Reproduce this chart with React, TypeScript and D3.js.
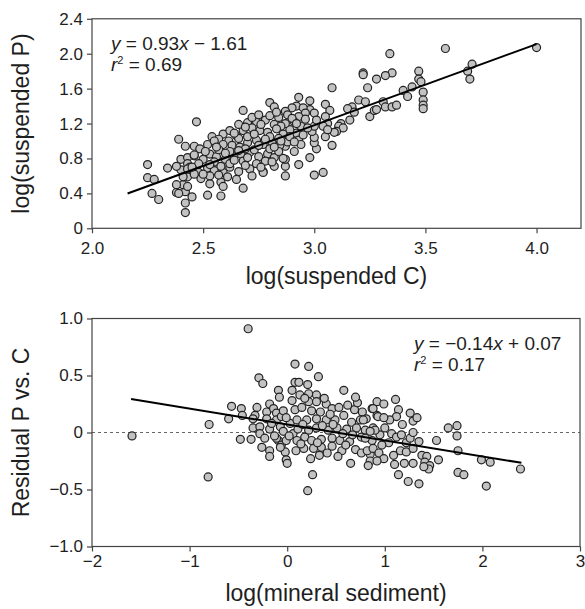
import React, { useRef, useEffect } from 'react'
import { select, scaleLinear, axisBottom, axisLeft, line } from 'd3'

const FONT = 'Liberation Sans, Arial, Helvetica, sans-serif'

// tick values
const carbonTicks = [2.0, 2.5, 3.0, 3.5, 4.0]
const phosphorusTicks = [0, 0.4, 0.8, 1.2, 1.6, 2.0, 2.4]
const sedimentTicks = [-2, -1, 0, 1, 2, 3]
const residualTicks = [-1.0, -0.5, 0, 0.5, 1.0]

// fits: [slope, intercept], drawn over [from, to]
const carbonFit = [0.93, -1.61]
const carbonFitSpan = [2.16, 4.0]
const carbonR2 = 0.69
const sedimentFit = [-0.14, 0.07]
const sedimentFitSpan = [-1.6, 2.4]
const sedimentR2 = 0.17

// [log(suspended C), log(suspended P)]
const carbonPoints = [
  [2.25, 0.73], [2.34, 0.69], [2.25, 0.58], [2.28, 0.56], [2.27, 0.40], [2.30, 0.33],
  [2.39, 1.02], [2.47, 1.22], [2.68, 1.35], [2.80, 1.44], [2.82, 1.39],
  [2.38, 0.41], [2.42, 0.42], [2.42, 0.29], [2.42, 0.18], [2.45, 0.36], [2.52, 0.38], [2.58, 0.37], [2.68, 0.46],
  [2.41, 0.50], [2.87, 0.60], [2.87, 0.71], [2.77, 0.65], [2.93, 0.73], [2.91, 0.88],
  [4.00, 2.07], [3.59, 2.06], [3.71, 1.88], [3.69, 1.80], [3.70, 1.71],
  [3.47, 1.80], [3.47, 1.71], [3.48, 1.68], [3.49, 1.56], [3.49, 1.47], [3.49, 1.41], [3.49, 1.37],
  [3.34, 2.00], [3.35, 1.78], [3.32, 1.75], [3.22, 1.78], [3.22, 1.76], [3.28, 1.71], [3.24, 1.61], [3.08, 1.61],
  [3.40, 1.58], [3.42, 1.51], [3.44, 1.62],
  [3.20, 1.47], [3.23, 1.45], [3.31, 1.45], [3.32, 1.39], [3.35, 1.39], [3.37, 1.41],
  [3.25, 1.28], [3.27, 1.35], [3.28, 1.36], [3.17, 1.39], [3.15, 1.37], [3.18, 1.33],
  [3.16, 1.24], [3.12, 1.20], [3.11, 1.17], [3.13, 1.15], [3.10, 1.11],
  [3.05, 1.42], [3.07, 1.35], [3.05, 1.28], [3.06, 1.20], [3.04, 1.17], [3.09, 1.10], [3.08, 0.95], [3.05, 1.05], [3.06, 1.13],
  [3.04, 0.64], [3.00, 0.61], [2.98, 0.81],
  [3.01, 0.91], [3.00, 0.98], [3.00, 1.04], [2.99, 1.11], [3.00, 1.17], [2.98, 1.46], [2.98, 1.36], [3.00, 1.32], [3.01, 1.24],
  [2.93, 1.50], [2.92, 1.40], [2.90, 1.38], [2.87, 1.34], [2.95, 1.38], [2.96, 1.32], [2.93, 1.28], [2.91, 1.22], [2.94, 1.17],
  [2.92, 1.09], [2.93, 1.01], [2.94, 0.96], [2.95, 1.07], [2.97, 1.15], [2.89, 1.13], [2.87, 1.20], [2.87, 0.94], [2.87, 0.79],
  [2.70, 1.21], [2.74, 1.22], [2.78, 1.24], [2.82, 1.19], [2.85, 1.17], [2.88, 1.30],
  [2.59, 1.08], [2.54, 1.05], [2.57, 1.02], [2.615, 1.00], [2.65, 1.06], [2.68, 1.12], [2.72, 1.15], [2.755, 1.12], [2.79, 1.10], [2.83, 1.14], [2.86, 1.08],
  [2.46, 0.94], [2.485, 0.91], [2.52, 0.96], [2.55, 1.00], [2.59, 0.96], [2.63, 0.95], [2.665, 0.93], [2.70, 0.98], [2.74, 1.01], [2.77, 0.96], [2.81, 0.99], [2.845, 0.95], [2.88, 0.99],
  [2.40, 0.79], [2.43, 0.81], [2.46, 0.83], [2.50, 0.79], [2.53, 0.85], [2.56, 0.82], [2.60, 0.79], [2.64, 0.83], [2.67, 0.85], [2.71, 0.87], [2.75, 0.82], [2.79, 0.85], [2.82, 0.81], [2.86, 0.80], [2.43, 0.74],
  [2.40, 0.67], [2.44, 0.70], [2.48, 0.64], [2.52, 0.69], [2.55, 0.66], [2.59, 0.64], [2.62, 0.70], [2.66, 0.65], [2.71, 0.68], [2.77, 0.64], [2.82, 0.71],
  [2.43, 0.59], [2.49, 0.57], [2.53, 0.60], [2.58, 0.53], [2.61, 0.59], [2.53, 0.51], [2.59, 0.48],
  [2.42, 0.94], [2.46, 0.84], [2.38, 0.71], [2.43, 0.68], [2.46, 0.62], [2.41, 0.59], [2.38, 0.50], [2.43, 0.48], [2.39, 0.40],
  [2.51, 0.88], [2.57, 0.90], [2.62, 0.88], [2.69, 0.91], [2.73, 0.90], [2.80, 0.91], [2.84, 0.88],
  [2.48, 0.74], [2.55, 0.76], [2.62, 0.74], [2.68, 0.77], [2.74, 0.74], [2.78, 0.77],
  [2.66, 1.03], [2.70, 1.05], [2.62, 1.12], [2.73, 1.08], [2.80, 1.05], [2.84, 1.03],
  [2.76, 1.19], [2.80, 1.29], [2.84, 1.27], [2.72, 1.27], [2.90, 1.26], [2.89, 1.05], [2.91, 0.99],
  [2.57, 0.61], [2.65, 0.56], [2.72, 0.60], [2.69, 0.72], [2.66, 1.19], [2.69, 1.16],
  [2.56, 0.93], [2.60, 0.86], [2.64, 0.78], [2.66, 0.89], [2.70, 0.81], [2.75, 0.95], [2.78, 1.02], [2.82, 0.93],
  [2.85, 1.00], [2.53, 0.73], [2.58, 0.71], [2.50, 0.62], [2.45, 0.70], [2.76, 0.70], [2.81, 0.76], [2.64, 1.09],
  [2.75, 1.30], [2.83, 1.33], [2.92, 1.20], [2.96, 1.25],
]

// [log(mineral sediment), residual P vs. C]
const sedimentPoints = [
  [-1.59, -0.03], [-0.80, 0.07], [-0.81, -0.39], [-0.40, 0.91], [-0.29, 0.48], [-0.25, 0.43],
  [-0.60, 0.12], [-0.57, 0.23], [-0.47, 0.21], [-0.46, 0.15], [-0.48, -0.06], [-0.37, -0.06],
  [-0.31, 0.22], [-0.33, 0.15], [-0.35, 0.12], [-0.35, 0.04], [-0.28, 0.05], [-0.28, -0.01], [-0.23, -0.05],
  [-0.26, -0.13], [-0.18, -0.16], [-0.18, -0.21],
  [-0.21, 0.18], [-0.18, 0.25], [-0.14, 0.21], [-0.09, 0.37], [-0.08, 0.31], [-0.11, 0.17], [-0.11, 0.11],
  [-0.06, 0.14], [-0.07, 0.05], [-0.04, 0.01], [-0.09, -0.07], [-0.06, -0.11], [-0.02, -0.17], [-0.01, -0.24],
  [0.03, 0.08], [0.05, 0.28], [0.05, 0.37], [0.08, 0.60], [0.08, 0.44], [0.08, 0.20], [0.06, -0.01], [0.10, -0.07], [0.09, -0.16],
  [-0.04, 0.19], [-0.21, 0.12], [-0.01, 0.13], [0.10, 0.11], [-0.18, 0.03], [-0.11, -0.05], [-0.01, -0.07], [-0.07, -0.13], [0.00, -0.27],
  [0.22, 0.58], [0.32, 0.49], [0.58, 0.37], [0.12, 0.44], [0.21, 0.42],
  [0.13, 0.33], [0.22, 0.34], [0.30, 0.33],
  [0.22, 0.27], [0.30, 0.27], [0.40, 0.25], [0.18, 0.30],
  [0.15, 0.22], [0.25, 0.19], [0.34, 0.18], [0.46, 0.21], [0.53, 0.22], [0.69, 0.20], [0.77, 0.18], [0.87, 0.21],
  [0.20, 0.11], [0.30, 0.12], [0.40, 0.11], [0.49, 0.11], [0.66, 0.09], [0.75, 0.11], [0.81, 0.12], [0.92, 0.15],
  [0.11, 0.03], [0.22, 0.02], [0.30, 0.04], [0.42, 0.02], [0.51, 0.04], [0.61, 0.03], [0.71, 0.04], [0.80, 0.02], [0.88, 0.04],
  [0.18, -0.04], [0.25, -0.07], [0.35, -0.06], [0.46, -0.05], [0.54, -0.07], [0.64, -0.08], [0.76, -0.04], [0.87, -0.07],
  [0.17, -0.14], [0.27, -0.14], [0.35, -0.13], [0.46, -0.12], [0.56, -0.16], [0.70, -0.15], [0.76, -0.18], [0.85, -0.19],
  [0.24, -0.23], [0.33, -0.20], [0.65, -0.27], [0.85, -0.25], [0.83, -0.29],
  [0.26, -0.37], [0.21, -0.51],
  [0.38, 0.30], [0.44, 0.16], [0.58, 0.15], [0.62, 0.24], [0.72, 0.26], [0.57, -0.01], [0.67, -0.02], [0.41, -0.18],
  [0.52, -0.21], [0.60, -0.11], [0.31, -0.09], [0.14, -0.10], [0.16, 0.07], [0.36, 0.06], [0.47, 0.07], [-0.16, 0.08],
  [-0.13, -0.03], [0.02, -0.03], [1.04, -0.09], [1.18, 0.07], [0.97, -0.11], [1.22, -0.09], [0.70, 0.31], [0.92, 0.27],
  [1.11, 0.29], [0.99, 0.25], [0.88, 0.21], [0.78, 0.11],
  [1.14, 0.20], [1.12, 0.14], [1.26, 0.17], [1.29, 0.10], [1.33, 0.13], [1.05, 0.11], [0.93, 0.14], [0.99, 0.13],
  [1.00, 0.04], [0.95, -0.02], [0.90, 0.02], [1.07, -0.01], [1.12, -0.04], [1.17, -0.02], [1.26, -0.05], [1.29, 0.00],
  [1.35, -0.08], [0.80, -0.05], [0.85, 0.01],
  [1.65, 0.04], [1.74, 0.06], [1.74, -0.03], [1.53, -0.07], [1.75, -0.16],
  [0.82, -0.16], [0.88, -0.14], [0.94, -0.18], [0.99, -0.23], [1.09, -0.20], [1.16, -0.16], [1.22, -0.17], [1.29, -0.14],
  [1.38, -0.20], [1.43, -0.21], [1.41, -0.26], [1.46, -0.29], [1.55, -0.24], [1.45, -0.32], [1.40, -0.30],
  [0.92, -0.25], [1.10, -0.28], [1.20, -0.27], [1.29, -0.27], [1.14, -0.37], [1.24, -0.43], [1.35, -0.45],
  [1.75, -0.35], [1.81, -0.37], [2.04, -0.47], [1.99, -0.24], [2.08, -0.26], [2.39, -0.32],
]

const fmt = (d, digits) => d === 0 ? '0' : (d < 0 ? '\u2212' : '') + Math.abs(d).toFixed(digits)

const Panel = ({ points, xDomain, yDomain, xRange, yRange, xTicks, yTicks, xDigits, yDigits,
  xPad, fit, fitSpan, r2, eqPos, zeroLine, xTitle, yTitle, xTitleY }) => {
  const ref = useRef()

  useEffect(() => {
    const g = select(ref.current)
    g.selectAll('*').remove()
    const x = scaleLinear().domain(xDomain).range(xRange)
    const y = scaleLinear().domain(yDomain).range(yRange)

    // x axis
    const xa = g.append('g')
      .attr('transform', `translate(0,${yRange[0]})`)
      .call(axisBottom(x).tickValues(xTicks).tickFormat(d => fmt(d, xDigits))
        .tickSize(5).tickSizeOuter(0).tickPadding(xPad))
    // y axis
    const ya = g.append('g')
      .attr('transform', `translate(${xRange[0]},0)`)
      .call(axisLeft(y).tickValues(yTicks).tickFormat(d => fmt(d, yDigits))
        .tickSize(5).tickSizeOuter(0).tickPadding(4))
    for (const a of [xa, ya]) {
      a.select('.domain').remove()
      a.selectAll('line').attr('stroke', '#444').attr('stroke-width', 1.2)
      a.selectAll('text').attr('font-size', 17).attr('font-family', FONT).attr('fill', '#1e1e1e')
    }

    if (zeroLine) {
      g.append('line')
        .attr('x1', xRange[0]).attr('x2', xRange[1])
        .attr('y1', y(0)).attr('y2', y(0))
        .attr('stroke', '#666').attr('stroke-width', 1).attr('stroke-dasharray', '3,3')
    }

    // frame
    g.append('rect')
      .attr('x', xRange[0]).attr('y', yRange[1])
      .attr('width', xRange[1] - xRange[0]).attr('height', yRange[0] - yRange[1])
      .attr('fill', 'none').attr('stroke', '#444').attr('stroke-width', 1.2)

    g.selectAll('.dot')
      .data(points)
      .join('circle')
      .attr('class', 'dot')
      .attr('cx', d => x(d[0]))
      .attr('cy', d => y(d[1]))
      .attr('r', 4)
      .attr('fill', '#c2c2c2')
      .attr('stroke', '#222')
      .attr('stroke-width', 1.2)

    const fitLine = line()
      .x(d => x(d))
      .y(d => y(fit[0] * d + fit[1]))
    g.append('path')
      .attr('d', fitLine(fitSpan))
      .attr('fill', 'none')
      .attr('stroke', '#000')
      .attr('stroke-width', 2)

    // equation
    const eq = g.append('text')
      .attr('x', eqPos[0]).attr('y', eqPos[1])
      .attr('font-size', 19).attr('font-family', FONT).attr('fill', '#1e1e1e')
    eq.append('tspan').attr('font-style', 'italic').text('y')
    eq.append('tspan').text(' = ' + fmt(fit[0], 2))
    eq.append('tspan').attr('font-style', 'italic').text('x')
    eq.append('tspan').text((fit[1] < 0 ? ' \u2212 ' : ' + ') + Math.abs(fit[1]).toFixed(2))

    const rt = g.append('text')
      .attr('x', eqPos[0]).attr('y', eqPos[1] + 20.5)
      .attr('font-size', 19).attr('font-family', FONT).attr('fill', '#1e1e1e')
    rt.append('tspan').attr('font-style', 'italic').text('r')
    rt.append('tspan').attr('font-size', 11).attr('dy', -7).text('2')
    rt.append('tspan').attr('dy', 7).text(' = ' + r2.toFixed(2))

    // titles
    g.append('text')
      .attr('x', (xRange[0] + xRange[1]) / 2).attr('y', xTitleY)
      .attr('text-anchor', 'middle')
      .attr('font-size', 23).attr('font-family', FONT).attr('fill', '#1e1e1e')
      .text(xTitle)
    g.append('text')
      .attr('transform', `translate(29,${(yRange[0] + yRange[1]) / 2}) rotate(-90)`)
      .attr('text-anchor', 'middle')
      .attr('font-size', 23).attr('font-family', FONT).attr('fill', '#1e1e1e')
      .text(yTitle)
  }, [])

  return <g ref={ref}></g>
}

const App = () => {
  return (
    <svg width={585} height={609} style={{ position: 'absolute', left: 0, top: 0, background: '#fff' }}>
      <Panel
        points={carbonPoints}
        xDomain={[2, 4.2]} yDomain={[0, 2.4]}
        xRange={[92, 581]} yRange={[228.3, 18.8]}
        xTicks={carbonTicks} yTicks={phosphorusTicks}
        xDigits={1} yDigits={1} xPad={9}
        fit={carbonFit} fitSpan={carbonFitSpan} r2={carbonR2}
        eqPos={[111, 50]} zeroLine={false}
        xTitle="log(suspended C)" yTitle="log(suspended P)" xTitleY={284}
      />
      <Panel
        points={sedimentPoints}
        xDomain={[-2, 3]} yDomain={[-1, 1]}
        xRange={[92, 580]} yRange={[546.5, 318.5]}
        xTicks={sedimentTicks} yTicks={residualTicks}
        xDigits={0} yDigits={1} xPad={3}
        fit={sedimentFit} fitSpan={sedimentFitSpan} r2={sedimentR2}
        eqPos={[414, 350]} zeroLine={true}
        xTitle="log(mineral sediment)" yTitle="Residual P vs. C" xTitleY={601}
      />
    </svg>
  )
}

export default App
